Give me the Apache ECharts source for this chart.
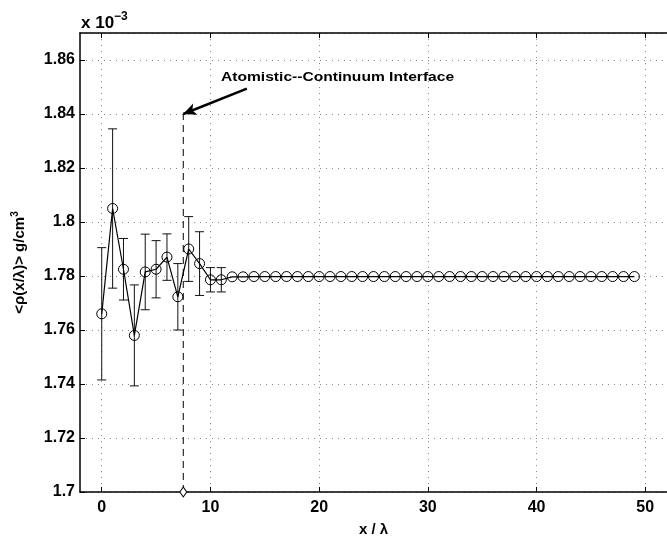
<!DOCTYPE html>
<html>
<head>
<meta charset="utf-8">
<script src="https://cdn.jsdelivr.net/npm/echarts@6/dist/echarts.min.js"></script>
<style>
  html, body { margin: 0; padding: 0; background: #fff; }
  #chart { width: 667px; height: 542px; }
</style>
</head>
<body>
<div id="chart"></div>
<script>
// positions x/lambda
var xs = [];
for (var i = 0; i < 50; i++) xs.push(i);
// mean density (x 10^-3 g/cm^3)
var means = [1.766, 1.805, 1.7825, 1.758, 1.7815, 1.7825, 1.787, 1.7723, 1.790, 1.7846, 1.7786, 1.7786,
  1.7797, 1.7797, 1.7798, 1.7798, 1.7798, 1.7798, 1.7798, 1.7798, 1.7798, 1.7798, 1.7798, 1.7798, 1.7798,
  1.7798, 1.7798, 1.7798, 1.7798, 1.7798, 1.7798, 1.7798, 1.7798, 1.7798, 1.7798, 1.7798, 1.7798, 1.7798,
  1.7798, 1.7798, 1.7798, 1.7798, 1.7798, 1.7798, 1.7798, 1.7798, 1.7798, 1.7798, 1.7798, 1.7798];
// error bar half widths (only the atomistic region)
var errs = [0.0245, 0.0295, 0.0114, 0.0187, 0.014, 0.0106, 0.0086, 0.0123, 0.012, 0.0118, 0.0045, 0.0045];
var xTicks = [0, 10, 20, 30, 40, 50];
var interfaceX = 7.5;
var interfaceTop = 1.84;
var arrowFrom = [13.35, 1.8494];

var pts = xs.map(function (x, i) { return [x, means[i]]; });
var bars = errs.map(function (e, i) { return [xs[i], means[i] - e, means[i] + e]; });

var chart = echarts.init(document.getElementById('chart'));
var fnt = 'Liberation Sans, Arial, Helvetica, sans-serif';

var axisCommon = {
  axisLine: { show: true, onZero: false, lineStyle: { color: '#000', width: 1.5 } },
  axisTick: { show: true, inside: true, length: 5, lineStyle: { color: '#000' } }
};
var xTick = { show: true, inside: true, length: 5, customValues: xTicks, lineStyle: { color: '#000' } };

chart.setOption({
  animation: false,
  grid: { left: 80, right: -2, top: 33, bottom: 48 },
  xAxis: [
    Object.assign({
      type: 'value', min: -2, max: 52,
      name: 'x / \u03bb', nameLocation: 'middle', nameGap: 30,
      nameTextStyle: { color: '#000', fontWeight: 'bold', fontSize: 15, fontFamily: fnt },
      axisLabel: { customValues: xTicks, color: '#000', fontWeight: 'bold', fontSize: 16, fontFamily: fnt, margin: 8 },
      splitLine: { show: true, lineStyle: { color: '#888', type: [1, 5], width: 1 } }
    }, axisCommon, { axisTick: xTick }),
    Object.assign({
      type: 'value', min: -2, max: 52, position: 'top',
      axisLabel: { show: false }, splitLine: { show: false }
    }, axisCommon, { axisTick: xTick })
  ],
  yAxis: [
    Object.assign({
      type: 'value', min: 1.7, max: 1.87, interval: 0.02,
      name: '<\u03c1(x/\u03bb)> g/cm{sup|3}', nameLocation: 'middle', nameGap: 50,
      nameTextStyle: { color: '#000', fontWeight: 'bold', fontSize: 15, fontFamily: fnt,
        rich: { sup: { fontSize: 10, fontWeight: 'bold', verticalAlign: 'top', padding: [0, 0, 10, 0], color: '#000' } } },
      axisLabel: { color: '#000', fontWeight: 'bold', fontSize: 16, fontFamily: fnt, margin: 5, showMaxLabel: false,
        formatter: function (v) { return String(+v.toFixed(2)); } },
      splitLine: { show: true, lineStyle: { color: '#888', type: [1, 5], width: 1 } }
    }, axisCommon),
    {
      type: 'value', min: 1.7, max: 1.87, interval: 0.02, position: 'right', show: false
    }
  ],
  graphic: [
    {
      type: 'text', left: 81, top: 11,
      style: {
        text: 'x 10{sup|\u22123}', fill: '#000', font: 'bold 17px ' + fnt,
        rich: { sup: { fontSize: 12, fontWeight: 'bold', fontFamily: fnt, padding: [0, 0, 12, 0] } }
      }
    },
    {
      type: 'text', x: 221, y: 71, scaleX: 1.2,
      style: { text: 'Atomistic--Continuum Interface', fill: '#000', font: 'bold 13px ' + fnt }
    }
  ],
  series: [
    {
      type: 'custom',
      renderItem: function (params, api) {
        var lo = api.coord([api.value(0), api.value(1)]);
        var hi = api.coord([api.value(0), api.value(2)]);
        var w = 4.5;
        var st = { stroke: '#111', lineWidth: 1 };
        return {
          type: 'group',
          children: [
            { type: 'line', shape: { x1: lo[0], y1: lo[1], x2: hi[0], y2: hi[1] }, style: st },
            { type: 'line', shape: { x1: lo[0] - w, y1: lo[1], x2: lo[0] + w, y2: lo[1] }, style: st },
            { type: 'line', shape: { x1: hi[0] - w, y1: hi[1], x2: hi[0] + w, y2: hi[1] }, style: st }
          ]
        };
      },
      encode: { x: 0, y: [1, 2] },
      data: bars,
      z: 2
    },
    {
      type: 'line',
      data: pts,
      symbol: 'circle',
      symbolSize: 10,
      lineStyle: { color: '#000', width: 1.2 },
      itemStyle: { color: 'rgba(255,255,255,0)', borderColor: '#000', borderWidth: 1 },
      z: 3
    },
    {
      type: 'line',
      data: [[interfaceX, 1.7], [interfaceX, interfaceTop]],
      symbol: function (v) { return v[1] === 1.7 ? 'diamond' : 'none'; },
      symbolSize: [7, 10],
      lineStyle: { color: '#000', width: 1, type: [7, 5] },
      itemStyle: { color: '#fff', borderColor: '#000', borderWidth: 1 },
      z: 4,
      markLine: {
        silent: true,
        symbol: ['none', 'arrow'],
        symbolSize: [9, 13],
        lineStyle: { color: '#000', width: 2.5, type: 'solid' },
        label: { show: false },
        data: [[{ coord: arrowFrom }, { coord: [interfaceX, interfaceTop] }]]
      }
    }
  ]
});
</script>
</body>
</html>
